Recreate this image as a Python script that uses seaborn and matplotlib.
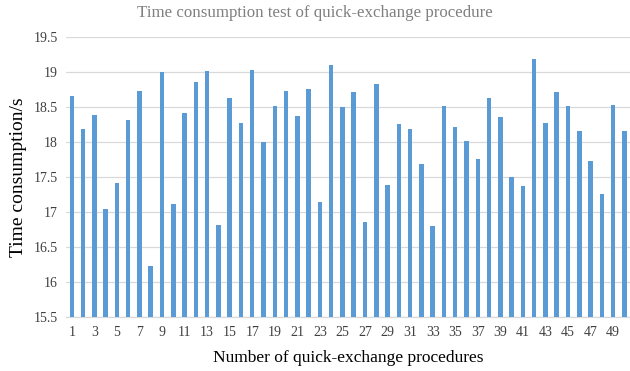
import matplotlib
matplotlib.use("Agg")
import matplotlib.pyplot as plt
import seaborn as sns
import pandas as pd

# Run index of each quick-exchange procedure
procedures = list(range(1, 51))

# Measured time consumption of each run, in seconds
times = [
    18.65, 18.19, 18.39, 17.05, 17.41, 18.31, 18.72, 16.23, 18.99, 17.12,
    18.41, 18.86, 19.01, 16.82, 18.63, 18.27, 19.02, 18.00, 18.51, 18.73,
    18.37, 18.75, 17.15, 19.10, 18.50, 18.71, 16.86, 18.83, 17.38, 18.25,
    18.19, 17.69, 16.80, 18.51, 18.21, 18.01, 17.76, 18.62, 18.35, 17.50,
    17.37, 19.18, 18.27, 18.71, 18.51, 18.15, 17.73, 17.25, 18.52, 18.16,
]

y_ticks = [15.5, 16, 16.5, 17, 17.5, 18, 18.5, 19, 19.5]
y_tick_labels = ["15.5", "16", "16.5", "17", "17.5", "18", "18.5", "19", "19.5"]

df = pd.DataFrame({"procedure": procedures, "time": times})

sns.set_theme(style="white")
plt.rcParams["font.family"] = ["Liberation Serif", "DejaVu Serif"]

fig = plt.figure(figsize=(6.3, 3.71), dpi=100)
ax = fig.add_axes([0.105, 0.145, 0.895, 0.756])

sns.barplot(data=df, x="procedure", y="time", color="#5B9BD5",
            saturation=1, width=0.4, linewidth=0, edgecolor="none",
            ax=ax, zorder=3)

ax.set_ylim(15.5, 19.5)
ax.set_yticks(y_ticks)
ax.set_yticklabels(y_tick_labels)
ax.set_xlim(-0.5, len(procedures) - 0.5)
ax.set_xticks(range(0, len(procedures), 2))
ax.set_xticklabels([str(p) for p in procedures[::2]])

ax.grid(axis="y", color="#D9D9D9", linewidth=0.9, zorder=0)
ax.grid(axis="x", visible=False)
for side in ["top", "right", "left"]:
    ax.spines[side].set_visible(False)
ax.spines["bottom"].set_color("#D9D9D9")
ax.spines["bottom"].set_linewidth(0.9)

ax.tick_params(axis="both", length=0, labelsize=10, colors="#404040")
ax.tick_params(axis="x", pad=6)
ax.tick_params(axis="y", pad=6)

ax.set_xlabel("Number of quick-exchange procedures", fontsize=12.5,
              color="black", labelpad=8)
ax.set_ylabel("Time consumption/s", fontsize=14, color="black", labelpad=5)
fig.text(0.5, 0.965, "Time consumption test of quick-exchange procedure",
         ha="center", va="center", fontsize=12.2, color="#7F7F7F")

fig.savefig("out.png", dpi=100)
